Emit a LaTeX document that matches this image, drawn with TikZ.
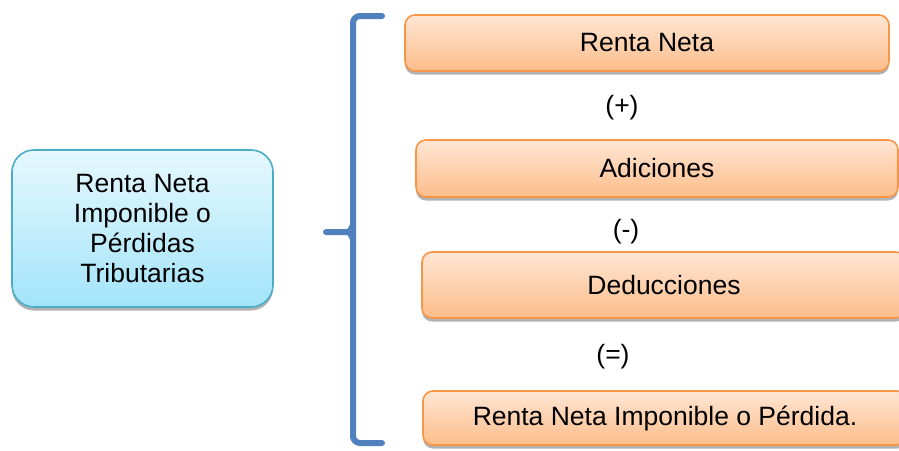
\documentclass[tikz,border=0pt]{standalone}
\usepackage{fontspec}
\setmainfont{Liberation Sans}
\usetikzlibrary{shadows}
\definecolor{naranjaborde}{HTML}{F79646}
\definecolor{naranjaarriba}{HTML}{FEE6D4}
\definecolor{naranjaabajo}{HTML}{FDBD8A}
\definecolor{celesteborde}{HTML}{4BACC6}
\definecolor{celestearriba}{HTML}{E6F8FE}
\definecolor{celesteabajo}{HTML}{A3E4FA}
\definecolor{llave}{HTML}{4F81BD}
\tikzset{
	cajabase/.style = {rectangle, inner sep=0pt, text centered, line width=1.6pt,
		font=\fontsize{26.5}{30}\selectfont,
		drop shadow={shadow xshift=0pt, shadow yshift=-3.5pt, opacity=0.3, fill=black}},
	concepto/.style = {cajabase, draw=naranjaborde, top color=naranjaarriba, bottom color=naranjaabajo, rounded corners=10pt},
	principal/.style = {cajabase, draw=celesteborde, top color=celestearriba, bottom color=celesteabajo, rounded corners=22pt, align=center},
	operador/.style = {inner sep=0pt, font=\fontsize{26.5}{30}\selectfont},
	llavelinea/.style = {draw=llave, line width=6pt, line cap=round}
}

\begin{document}
\begin{tikzpicture}[x=1pt, y=-1pt]
	\useasboundingbox (0,0) rectangle (899,450);
	%cajas
	\node (renta) [principal, minimum width=261pt, minimum height=157pt] at (142.5,228.5) {Renta Neta\\Imponible o\\Pérdidas\\Tributarias};
	\node (neta) [concepto, minimum width=484pt, minimum height=56pt] at (647,43) {Renta Neta};
	\node (adic) [concepto, minimum width=482pt, minimum height=57pt] at (657,168.5) {Adiciones};
	\node (dedu) [concepto, minimum width=484pt, minimum height=66pt] at (664,285) {Deducciones};
	\node (final) [concepto, minimum width=484pt, minimum height=54pt] at (665,418) {Renta Neta Imponible o Pérdida.};

	%operadores
	\node (mas) [operador] at (622,108) {(+)};
	\node (menos) [operador] at (626,232) {(-)};
	\node (igual) [operador] at (613,357) {(=)};

	%llave
	\draw [llavelinea, rounded corners=7pt] (382,16) -- (353,16) -- (353,443) -- (382,443);
	\draw [llavelinea] (326,232) -- (348,232) to[out=0, in=-90] (353,238);
	\draw [llavelinea] (348,232) to[out=0, in=90] (353,226);
\end{tikzpicture}
\end{document}
